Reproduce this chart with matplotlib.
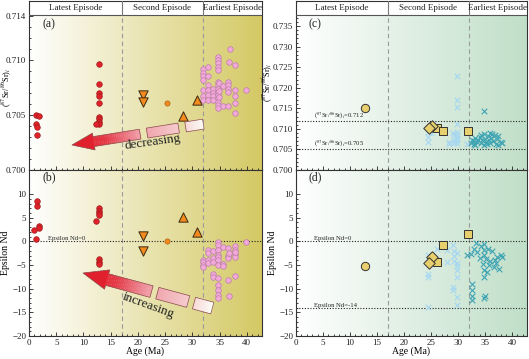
import numpy as np
import matplotlib
matplotlib.use('Agg')
import matplotlib.pyplot as plt
from matplotlib.colors import LinearSegmentedColormap
from matplotlib.patches import Polygon
from matplotlib.ticker import MultipleLocator, FixedLocator, FormatStrFormatter

plt.rcParams['font.family'] = ['Liberation Serif', 'DejaVu Serif']
plt.rcParams['mathtext.fontset'] = 'stix'

# ---------------- data ----------------
# (a) Sr isotopes, left panel
red_sr_age = [1.2, 1.8, 1.3, 1.4, 1.4, 12.9, 12.9, 12.9, 12.9, 12.9, 12.9, 12.9, 12.9, 12.9, 12.3]
red_sr = [0.7050, 0.7049, 0.7042, 0.7039, 0.7032, 0.7096, 0.7078, 0.7070, 0.7067, 0.7061,
          0.7048, 0.7046, 0.7044, 0.7042, 0.7042]
tri_dn_age = [21.0, 21.0]
tri_dn_sr = [0.7068, 0.7062]
orange_age = [25.4]
orange_sr = [0.7061]
tri_up_age = [28.3, 30.9]
tri_up_sr = [0.7049, 0.7064]
pink_sr_age = [31.9, 31.9, 31.9, 31.9, 31.9, 31.9, 31.9,
               32.8, 32.8, 32.8, 32.8, 32.8, 32.8,
               33.8, 33.8, 33.8, 33.8,
               34.7, 34.7, 34.7, 34.7, 34.7, 34.7, 34.7, 34.7, 34.7, 34.7, 34.7, 34.7, 34.7, 34.7,
               34.9, 34.9, 34.9, 35.7, 35.7,
               36.5, 36.5, 36.5, 36.5, 36.5, 36.8, 36.9,
               37.8, 37.8, 37.8, 37.8, 37.8, 39.8]
pink_sr = [0.7092, 0.7088, 0.7085, 0.7082, 0.7073, 0.7067, 0.7064,
           0.7094, 0.7085, 0.7077, 0.7073, 0.7068, 0.7064,
           0.7074, 0.7070, 0.7067, 0.7064,
           0.7103, 0.7100, 0.7097, 0.7094, 0.7080, 0.7077, 0.7074, 0.7071, 0.7068, 0.7065,
           0.7062, 0.7059, 0.7056, 0.7091,
           0.7079, 0.7072, 0.7066, 0.7058, 0.7076,
           0.7080, 0.7077, 0.7074, 0.7071, 0.7058, 0.7098, 0.7110,
           0.7095, 0.7073, 0.7067, 0.7061, 0.7052, 0.7073]

# (b) Epsilon Nd, left panel
red_nd_age = [1.4, 1.4, 1.9, 1.9, 1.0, 1.3, 12.9, 12.9, 12.9, 12.9, 12.3, 12.9, 12.9, 12.9]
red_nd = [8.5, 7.5, 3.2, 2.8, 2.5, 0.6, 7.0, 6.5, 6.0, 5.5, 4.4, -3.8, -4.4, -4.8]
tri_dn_nd = [1.1, -2.0]
orange_nd = [0.1]
tri_up_nd = [5.2, 2.0]
pink_nd_age = [31.9, 31.9, 31.9, 31.9,
               32.8, 32.8, 32.8, 32.8,
               33.8, 33.8, 33.8, 33.8, 33.8,
               34.7, 34.7, 34.7, 34.7, 34.7, 34.7, 34.7, 34.7, 34.7, 34.7, 34.7, 34.7,
               35.6, 35.6, 35.6,
               36.5, 36.5, 36.5, 36.5, 36.8, 36.8,
               37.8, 37.8, 37.8, 37.8, 37.8, 37.8, 39.8]
pink_nd = [-3.9, -4.4, -4.9, -5.4,
           -1.8, -2.4, -4.0, -4.5,
           -2.0, -3.6, -4.3, -6.8, -7.6,
           -0.1, -0.8, -1.8, -2.9, -3.4, -3.9, -5.0, -7.7, -9.2, -10.3, -11.3, -11.9,
           -1.1, -4.8, -5.2,
           -1.3, -3.0, -3.6, -8.1, -11.5, -2.5,
           -1.0, -1.8, -2.6, -3.3, -7.4, -2.2, -0.1]

# (c) Sr isotopes, right panel
ycirc_age = [12.8]
ycirc_sr = [0.7150]
ydia_age = [25.2, 24.7]
ydia_sr = [0.7107, 0.7103]
ysq_age = [26.1, 27.3, 31.9]
ysq_sr = [0.7101, 0.7096, 0.7096]
lb_sr_age = [24.4, 24.4, 24.4, 25.0, 28.3, 28.3, 29.0, 29.3, 29.3, 29.3,
             29.8, 29.8, 29.8, 29.8, 29.8, 29.8, 29.8, 29.8, 29.8, 31.6]
lb_sr = [0.7093, 0.7081, 0.7069, 0.7090, 0.7069, 0.7064, 0.7090, 0.7085, 0.7074, 0.7066,
         0.7228, 0.7170, 0.7154, 0.7113, 0.7093, 0.7085, 0.7078, 0.7073, 0.7065, 0.7064]
teal_sr_age = [32.5, 32.7, 33.0, 33.2, 33.5, 33.8, 34.0, 34.2, 34.5, 34.8, 34.8, 34.8, 35.0,
               35.2, 35.5, 35.8, 36.0, 36.2, 36.5, 36.8, 37.0, 37.2, 37.5, 38.0, 38.2,
               33.2, 34.3, 35.4, 36.4, 37.4, 32.9, 35.9]
teal_sr = [0.7066, 0.7072, 0.7064, 0.7078, 0.7069, 0.7074, 0.7080, 0.7066, 0.7072, 0.7143,
           0.7088, 0.7062, 0.7076, 0.7068, 0.7082, 0.7072, 0.7066, 0.7078, 0.7070, 0.7084,
           0.7064, 0.7075, 0.7082, 0.7068, 0.7066,
           0.7062, 0.7084, 0.7064, 0.7087, 0.7062, 0.7070, 0.7091]

# (d) Epsilon Nd, right panel
ycirc_nd = [-5.3]
ydia_nd = [-3.4, -4.6]
ysq_nd = [-4.4, -0.8, 1.6]
lb_nd_age = [24.4, 24.4, 24.4, 24.4, 26.2, 26.2, 27.9, 27.9, 29.0, 29.3, 29.3, 29.3,
             29.8, 29.8, 29.8, 29.8, 29.8, 29.0, 29.0, 29.8, 29.8, 26.9]
lb_nd = [-2.9, -6.8, -7.5, -13.8, -1.5, -3.9, -1.9, -4.3, -0.8, -2.0, -3.0, -4.1,
         -2.5, -4.5, -5.2, -6.0, -7.5, -9.6, -10.3, -11.8, -13.4, -1.2]
teal_nd_age = [31.7, 32.5, 32.7, 32.7, 32.7, 32.7, 33.0, 33.3, 33.6, 34.0, 34.3, 34.6,
               34.8, 34.8, 34.8, 34.8, 35.0, 35.2, 35.5, 35.8, 36.0, 36.3, 36.6, 37.0,
               37.3, 37.6, 38.0, 38.2, 34.8, 34.8, 35.3, 36.8]
teal_nd = [-2.9, -2.6, -9.0, -10.2, -11.5, -12.3, -1.5, -0.4, -2.2, -3.6, -1.0, -4.8,
           -0.5, -2.8, -6.0, -7.5, -11.5, -3.8, -1.5, -5.0, -4.2, -2.0, -5.5, -4.6,
           -3.2, -5.8, -2.8, -3.4, -11.9, -1.8, -6.5, -4.0]

episode_names = ['Latest Episode', 'Second Episode', 'Earliest Episode']
episode_bounds = [0, 17, 32, 42.8]

# ---------------- figure ----------------
FW, FH = 529, 359
fig = plt.figure(figsize=(FW / 100, FH / 100), dpi=100)

axa = fig.add_axes([29 / FW, (FH - 170) / FH, 233 / FW, 169 / FH])
axb = fig.add_axes([29 / FW, (FH - 336) / FH, 233 / FW, 166 / FH])
axc = fig.add_axes([296 / FW, (FH - 170) / FH, 231 / FW, 169 / FH])
axd = fig.add_axes([296 / FW, (FH - 336) / FH, 231 / FW, 166 / FH])

XMAX = 42.8
HEAD_FRAC = 0.917  # header line position in top axes (axes fraction)

def style_axis(ax, ylo, yhi, color_end, header, major_y, minor_y):
    ax.set_xlim(0, XMAX)
    ax.set_ylim(ylo, yhi)
    top = ylo + (yhi - ylo) * HEAD_FRAC if header else yhi
    cmap = LinearSegmentedColormap.from_list('g', ['#ffffff', color_end])
    grad = np.linspace(0, 1, 256).reshape(1, -1)
    ax.imshow(grad, cmap=cmap, extent=[0, XMAX, ylo, top], aspect='auto', zorder=0)
    vtop = HEAD_FRAC if header else 1
    for xv in episode_bounds[1:3]:
        ax.axvline(xv, ymin=0, ymax=vtop, color='#9a9a9a', ls=(0, (4, 3)), lw=0.8, zorder=1)
    if header:
        ax.axhline(top, color='#555555', lw=0.8, zorder=3)
        for xv in episode_bounds[1:3]:
            ax.axvline(xv, ymin=HEAD_FRAC, ymax=1, color='#777777', lw=0.8, zorder=3)
        for i, name in enumerate(episode_names):
            xc = (episode_bounds[i] + episode_bounds[i + 1]) / 2
            ax.text(xc, (1 + HEAD_FRAC) / 2, name, transform=ax.get_xaxis_transform(),
                    ha='center', va='center', fontsize=6.5, color='#222222')
    ax.xaxis.set_major_locator(MultipleLocator(5))
    ax.xaxis.set_minor_locator(MultipleLocator(1))
    ax.yaxis.set_major_locator(FixedLocator(major_y))
    ax.yaxis.set_minor_locator(FixedLocator(minor_y))
    ax.tick_params(which='both', direction='in', labelsize=6.5, colors='#222222',
                   top=False, right=False, width=0.6, pad=2)
    ax.tick_params(which='major', length=3)
    ax.tick_params(which='minor', length=1.6)
    for sp in ax.spines.values():
        sp.set_color('#333333')
        sp.set_linewidth(0.8)

style_axis(axa, 0.700, 0.71536, '#d4c964', True,
           [0.700, 0.705, 0.710, 0.714], np.arange(0.700, 0.7141, 0.001))
axa.yaxis.set_major_formatter(FormatStrFormatter('%.3f'))
style_axis(axb, -20, 15.1, '#d4c964', False,
           [-20, -15, -10, -5, 0, 5, 10], np.arange(-20, 11, 1))
style_axis(axc, 0.700, 0.7411, '#c0dfc8', True,
           np.arange(0.700, 0.7351, 0.005), np.arange(0.700, 0.7371, 0.001))
axc.yaxis.set_major_formatter(FormatStrFormatter('%.3f'))
style_axis(axd, -20, 15.1, '#c0dfc8', False,
           [-20, -15, -10, -5, 0, 5, 10], np.arange(-20, 11, 1))

for ax in (axa, axc):
    ax.tick_params(labelbottom=False)

sr_label = r'($^{87}$Sr/$^{86}$Sr)$_i$'
axa.set_ylabel(sr_label, fontsize=6, labelpad=1)
axc.set_ylabel(sr_label, fontsize=6, labelpad=1)
axb.set_ylabel('Epsilon Nd', fontsize=7, labelpad=1)
axd.set_ylabel('Epsilon Nd', fontsize=7, labelpad=1)
axb.set_xlabel('Age (Ma)', fontsize=7, labelpad=0)
axd.set_xlabel('Age (Ma)', fontsize=7, labelpad=0)
axa.yaxis.set_label_coords(-0.068, 0.49)
axc.yaxis.set_label_coords(-0.097, 0.52)
axb.yaxis.set_label_coords(-0.082, 0.5)
axd.yaxis.set_label_coords(-0.082, 0.5)

for ax, lab, yf in ((axa, '(a)', 0.865), (axb, '(b)', 0.955), (axc, '(c)', 0.865), (axd, '(d)', 0.955)):
    ax.text(2.4, yf, lab, transform=ax.get_xaxis_transform(), fontsize=8.5,
            ha='left', va='center', color='#222222')

# reference lines
def ref_line(ax, y, label):
    ax.axhline(y, color='#222222', ls=(0, (1, 1.5)), lw=0.8, zorder=2)
    ax.text(3.4, y, label, fontsize=4.8, ha='left', va='bottom', color='#222222', zorder=2)

ref_line(axb, 0, 'Epsilon Nd=0')
ref_line(axc, 0.712, r'($^{87}$Sr/$^{86}$Sr)$_i$=0.712')
ref_line(axc, 0.705, r'($^{87}$Sr/$^{86}$Sr)$_i$=0.705')
ref_line(axd, 0, 'Epsilon Nd=0')
ref_line(axd, -14, 'Epsilon Nd=-14')

# ---------------- markers ----------------
RED, RED_E = '#e0222a', '#9e1a1a'
PINK, PINK_E = '#f2a9da', '#bb7fa8'
ORANGE, ORANGE_E = '#f28a1e', '#3a2a12'
YEL, YEL_E = '#e6cf6c', '#333333'
LBLUE, TEAL = '#a6d7f2', '#3ea4b4'

axa.scatter(pink_sr_age, pink_sr, s=16, c=PINK, edgecolors=PINK_E, linewidths=0.5, zorder=4)
axa.scatter(red_sr_age, red_sr, s=16, c=RED, edgecolors=RED_E, linewidths=0.5, zorder=4)
axa.scatter(tri_dn_age, tri_dn_sr, s=45, marker='v', c=ORANGE, edgecolors=ORANGE_E, linewidths=0.7, zorder=4)
axa.scatter(orange_age, orange_sr, s=14, c=ORANGE, edgecolors='#b06010', linewidths=0.5, zorder=4)
axa.scatter(tri_up_age, tri_up_sr, s=45, marker='^', c=ORANGE, edgecolors=ORANGE_E, linewidths=0.7, zorder=4)

axb.scatter(pink_nd_age, pink_nd, s=16, c=PINK, edgecolors=PINK_E, linewidths=0.5, zorder=4)
axb.scatter(red_nd_age, red_nd, s=16, c=RED, edgecolors=RED_E, linewidths=0.5, zorder=4)
axb.scatter(tri_dn_age, tri_dn_nd, s=45, marker='v', c=ORANGE, edgecolors=ORANGE_E, linewidths=0.7, zorder=4)
axb.scatter(orange_age, orange_nd, s=14, c=ORANGE, edgecolors='#b06010', linewidths=0.5, zorder=4)
axb.scatter(tri_up_age, tri_up_nd, s=45, marker='^', c=ORANGE, edgecolors=ORANGE_E, linewidths=0.7, zorder=4)

axc.scatter(lb_sr_age, lb_sr, s=16, marker='x', c=LBLUE, linewidths=0.8, zorder=3)
axc.scatter(teal_sr_age, teal_sr, s=16, marker='x', c=TEAL, linewidths=0.8, zorder=3)
axc.scatter(ycirc_age, ycirc_sr, s=36, c=YEL, edgecolors=YEL_E, linewidths=0.7, zorder=4)
axc.scatter(ysq_age, ysq_sr, s=30, marker='s', c=YEL, edgecolors=YEL_E, linewidths=0.7, zorder=4)
axc.scatter(ydia_age, ydia_sr, s=34, marker='D', c=YEL, edgecolors=YEL_E, linewidths=0.7, zorder=4)

axd.scatter(lb_nd_age, lb_nd, s=16, marker='x', c=LBLUE, linewidths=0.8, zorder=3)
axd.scatter(teal_nd_age, teal_nd, s=16, marker='x', c=TEAL, linewidths=0.8, zorder=3)
axd.scatter(ycirc_age, ycirc_nd, s=36, c=YEL, edgecolors=YEL_E, linewidths=0.7, zorder=4)
axd.scatter(ysq_age, ysq_nd, s=30, marker='s', c=YEL, edgecolors=YEL_E, linewidths=0.7, zorder=4)
axd.scatter(ydia_age, ydia_nd, s=34, marker='D', c=YEL, edgecolors=YEL_E, linewidths=0.7, zorder=4)

# ---------------- gradient arrows ----------------
arrow_cmap = LinearSegmentedColormap.from_list(
    'arr', [(0, '#e0202c'), (0.25, '#e43644'), (0.5, '#f09aa6'), (0.8, '#f6c8ce'), (1, '#ffffff')])

def gradient_arrow(ax, tip, tail, head_len, head_hw, body_hw, body_end, rects):
    bb = ax.get_position()
    W, H = bb.width * FW, bb.height * FH
    tip = np.array(tip, float)
    d = np.array(tail, float) - tip
    L = np.hypot(*d)
    u = d / L
    n = np.array([-u[1], u[0]])

    def P(s, t):
        p = tip + s * u + t * n
        return (p[0] / W, p[1] / H)

    def quad(s0, s1, hw, **kw):
        return Polygon([P(s0, -hw), P(s1, -hw), P(s1, hw), P(s0, hw)],
                       closed=True, transform=ax.transAxes, **kw)

    ax.add_patch(Polygon([P(0, 0), P(head_len, head_hw), P(head_len, -head_hw)], closed=True,
                         transform=ax.transAxes, fc=arrow_cmap(0), ec='none', zorder=5))
    segs = [(head_len - 0.5, body_end)] + list(rects)
    for s0, s1 in segs:
        edges = np.linspace(s0, s1, 25)
        for e0, e1 in zip(edges[:-1], edges[1:]):
            ax.add_patch(quad(e0, e1 + 0.3, body_hw, fc=arrow_cmap((e0 + e1) / 2 / L),
                              ec='none', zorder=5))
    outline = [P(0, 0), P(head_len, head_hw), P(head_len, body_hw), P(body_end, body_hw),
               P(body_end, -body_hw), P(head_len, -body_hw), P(head_len, -head_hw)]
    ax.add_patch(Polygon(outline, closed=True, transform=ax.transAxes, fc='none',
                         ec='#8a4a4a', lw=0.5, zorder=6))
    for s0, s1 in rects:
        ax.add_patch(quad(s0, s1, body_hw, fc='none', ec='#8a4a4a', lw=0.5, zorder=6))

# geometry in axes pixels (origin lower-left of each axes)
gradient_arrow(axa, tip=(43, 25), tail=(175, 46), head_len=22, head_hw=8.5, body_hw=5,
               body_end=69, rects=[(76, 108), (115, 133)])
axa.text(124 / 233, 28 / 169, 'decreasing', transform=axa.transAxes, rotation=8,
         fontsize=9.5, ha='center', va='center', color='#222222', zorder=7)

gradient_arrow(axb, tip=(54, 63), tail=(183, 28), head_len=25, head_hw=10, body_hw=6,
               body_end=71, rects=[(77, 109), (115, 134)])
axb.text(119 / 233, 30 / 166, 'increasing', transform=axb.transAxes, rotation=-20,
         fontsize=9.5, ha='center', va='center', color='#222222', zorder=7)

plt.savefig('out.png', dpi=100)
plt.close()
